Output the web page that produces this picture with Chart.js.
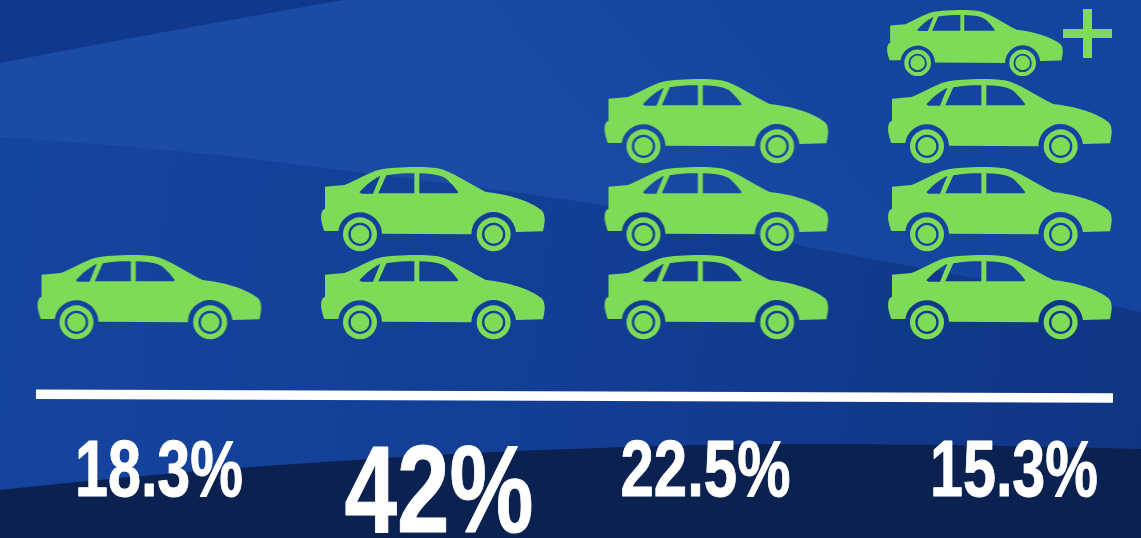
<!DOCTYPE html>
<html>
<head>
<meta charset="utf-8">
<style>
  html, body { margin: 0; padding: 0; background: #123f98; }
  canvas { display: block; }
</style>
<script src="https://cdn.jsdelivr.net/npm/chart.js@4"></script>
</head>
<body>
<canvas id="chartCars" width="1141" height="538"></canvas>
<script>
// one column per share, number of cars stacked in it
const columns = [0, 1, 2, 3];
const carCounts = [1, 2, 3, 4];
const shareLabels = ['18.3%', '42%', '22.5%', '15.3%'];
const plusColumn = 3;

const GREEN = '#7edb57';

function carPath(ctx) {
  // 3 units = 1px, origin at bumper/roof corner
  const p = new Path2D();
  p.moveTo(62, 104);
  p.lineTo(120, 99);
  p.bezierCurveTo(150, 88, 190, 62, 225, 53);
  p.bezierCurveTo(270, 45, 350, 42, 400, 49);
  p.bezierCurveTo(445, 58, 500, 100, 545, 120);
  p.bezierCurveTo(610, 126, 680, 148, 712, 175);
  p.bezierCurveTo(725, 190, 722, 210, 716, 238);
  p.lineTo(635, 240);
  p.arc(568, 247, 67, -0.1, Math.PI, true);
  p.lineTo(233, 245);
  p.arc(167, 247, 66, -0.03, Math.PI + 0.15, true);
  p.lineTo(60, 237);
  p.bezierCurveTo(54, 220, 48, 200, 51, 185);
  p.quadraticCurveTo(53, 173, 62, 170);
  p.closePath();
  // windows
  p.moveTo(165, 121);
  p.bezierCurveTo(185, 98, 205, 83, 228, 71);
  p.lineTo(206, 125);
  p.lineTo(172, 125);
  p.closePath();
  p.moveTo(246, 70);
  p.bezierCurveTo(275, 65, 305, 64, 330, 64);
  p.lineTo(330, 124);
  p.lineTo(222, 124);
  p.closePath();
  p.moveTo(345, 64);
  p.bezierCurveTo(385, 65, 415, 70, 430, 84);
  p.quadraticCurveTo(450, 103, 462, 121);
  p.lineTo(458, 124);
  p.lineTo(345, 124);
  p.closePath();
  ctx.fill(p, 'evenodd');

  // wheels, ring + hub
  [[167, 247], [568, 247]].forEach(([cx, cy]) => {
    const w = new Path2D();
    w.arc(cx, cy, 51, 0, Math.PI * 2);
    w.moveTo(cx + 35, cy);
    w.arc(cx, cy, 35, 0, Math.PI * 2);
    w.moveTo(cx + 28, cy);
    w.arc(cx, cy, 28, 0, Math.PI * 2);
    ctx.fill(w, 'evenodd');
  });
}

function makeIcon(withPlus) {
  const c = document.createElement('canvas');
  c.width = 226;
  c.height = 86;
  const ctx = c.getContext('2d');
  ctx.fillStyle = GREEN;
  ctx.save();
  if (withPlus) {
    ctx.translate(0, 20);
    ctx.scale(176 / 224 / 3, 66 / 84 / 3);
  } else {
    ctx.translate(1, 1);
    ctx.scale(1 / 3, 1 / 3);
  }
  ctx.translate(-50, -45);
  carPath(ctx);
  ctx.restore();
  if (withPlus) {
    ctx.fillRect(176, 39, 49, 9);
    ctx.fillRect(196, 19, 9, 49);
  }
  return c;
}

const carIcon = makeIcon(false);
const carPlusIcon = makeIcon(true);

const points = [];
const icons = [];
columns.forEach((col, i) => {
  for (let level = 0; level < carCounts[i]; level++) {
    points.push({ x: col, y: level });
    icons.push(col === plusColumn && level === carCounts[i] - 1 ? carPlusIcon : carIcon);
  }
});

const fondo = {
  id: 'fondo',
  beforeDraw(chart) {
    const { ctx, width: w, height: h } = chart;
    ctx.save();
    // lower part of the slide
    const low = ctx.createLinearGradient(0, 250, w, 420);
    low.addColorStop(0, '#15449f');
    low.addColorStop(0.55, '#123d93');
    low.addColorStop(1, '#103683');
    ctx.fillStyle = low;
    ctx.fillRect(0, 0, w, h);

    // lighter swoosh over it, fading to the top and to the right
    const up = ctx.createLinearGradient(760, 0, 500, 220);
    up.addColorStop(0, '#14449f');
    up.addColorStop(0.6, '#1a49a4');
    up.addColorStop(1, '#1c4ba6');
    ctx.fillStyle = up;
    ctx.beginPath();
    ctx.moveTo(0, 0);
    ctx.lineTo(w, 0);
    ctx.lineTo(w, 312);
    ctx.bezierCurveTo(1040, 290, 923, 268, 808, 247);
    ctx.bezierCurveTo(720, 225, 660, 213, 605, 205);
    ctx.bezierCurveTo(470, 185, 300, 165, 237, 157);
    ctx.quadraticCurveTo(120, 145, 0, 137);
    ctx.closePath();
    ctx.fill();

    // dark wedge top left
    ctx.fillStyle = '#10398e';
    ctx.beginPath();
    ctx.moveTo(0, 0);
    ctx.lineTo(344, 0);
    ctx.quadraticCurveTo(170, 30, 0, 63);
    ctx.closePath();
    ctx.fill();

    // dark bottom
    ctx.fillStyle = '#0b2250';
    ctx.beginPath();
    ctx.moveTo(0, 490);
    ctx.bezierCurveTo(200, 468, 450, 452, 600, 448);
    ctx.bezierCurveTo(750, 441, 950, 444, w, 449);
    ctx.lineTo(w, h);
    ctx.lineTo(0, h);
    ctx.closePath();
    ctx.fill();
    ctx.restore();
  },
};

const baseYEtiquetas = {
  id: 'baseYEtiquetas',
  afterDatasetsDraw(chart) {
    const { ctx } = chart;
    const xs = chart.scales.x;
    ctx.save();
    // white rule, slightly tilted like the slide
    ctx.strokeStyle = '#fff';
    ctx.lineWidth = 9.5;
    ctx.beginPath();
    ctx.moveTo(36, 394.2);
    ctx.lineTo(1113, 398);
    ctx.stroke();

    const estilos = [
      { dx: 9.5, base: 496, size: 80, w: 168 },
      { dx: 6, base: 532, size: 124, w: 189 },
      { dx: -11, base: 496, size: 80, w: 170 },
      { dx: 14, base: 496, size: 80, w: 168 },
    ];
    ctx.fillStyle = '#fff';
    ctx.strokeStyle = '#fff';
    ctx.lineWidth = 1;
    ctx.lineJoin = 'round';
    ctx.textAlign = 'center';
    ctx.textBaseline = 'alphabetic';
    shareLabels.forEach((txt, i) => {
      const e = estilos[i];
      ctx.font = `bold ${e.size}px "Liberation Sans Narrow", "Liberation Sans", sans-serif`;
      const sx = e.w / ctx.measureText(txt).width;
      ctx.save();
      ctx.translate(xs.getPixelForValue(columns[i]) + e.dx, e.base);
      ctx.scale(sx, 1);
      ctx.fillText(txt, 0, 0);
      ctx.strokeText(txt, 0, 0);
      ctx.restore();
    });
    ctx.restore();
  },
};

new Chart(document.getElementById('chartCars'), {
  type: 'scatter',
  data: {
    datasets: [{
      data: points,
      pointStyle: icons,
      clip: false,
    }],
  },
  options: {
    responsive: false,
    animation: false,
    events: [],
    layout: { padding: 0, autoPadding: false },
    scales: {
      x: { type: 'linear', display: false, min: -149.5 / 283.5, max: (1141 - 149.5) / 283.5 },
      y: { type: 'linear', display: false, min: -241 / 88, max: 297 / 88 },
    },
    plugins: {
      legend: { display: false },
      tooltip: { enabled: false },
    },
  },
  plugins: [fondo, baseYEtiquetas],
});
</script>
</body>
</html>
